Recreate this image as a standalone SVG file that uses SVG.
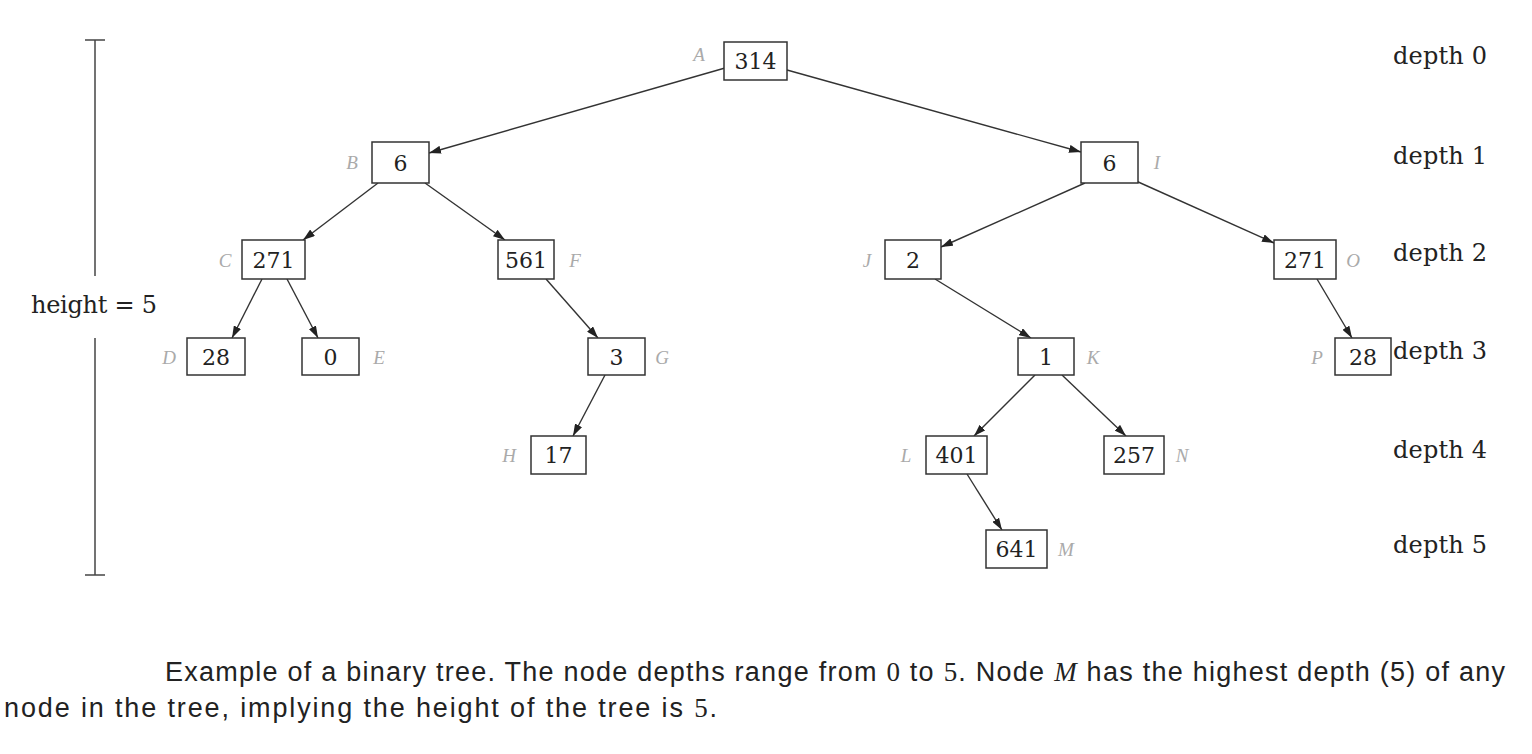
<svg xmlns="http://www.w3.org/2000/svg" width="1532" height="754" viewBox="0 0 1532 754">
<defs>
<style>
.box{fill:#fff;stroke:#333;stroke-width:1.5}
.val{font-family:"DejaVu Serif",serif;font-size:22px;fill:#222;text-anchor:middle}
.lab{font-family:"Liberation Serif",serif;font-style:italic;font-size:19px;fill:#aaa;text-anchor:middle}
.dep{font-family:"DejaVu Serif",serif;font-size:24px;fill:#222}
.edge{stroke:#333;stroke-width:1.4;fill:none;marker-end:url(#ah)}
.cap{font-family:"Liberation Sans",sans-serif;font-size:27px;fill:#222}
</style>
<marker id="ah" viewBox="0 0 12 8" refX="12" refY="4" markerWidth="12" markerHeight="8" markerUnits="userSpaceOnUse" orient="auto">
<path d="M0,0 L12,4 L0,8 z" fill="#222"/>
</marker>
</defs>
<rect width="1532" height="754" fill="#fff"/>
<g id="connectors">
<line class="edge" x1="725" y1="68" x2="429" y2="153"/>
<line class="edge" x1="787" y1="70" x2="1081" y2="152"/>
<line class="edge" x1="378" y1="183" x2="303" y2="240"/>
<line class="edge" x1="425" y1="183" x2="505" y2="240"/>
<line class="edge" x1="1085" y1="183" x2="941" y2="247"/>
<line class="edge" x1="1136" y1="181" x2="1274" y2="243"/>
<line class="edge" x1="262" y1="279" x2="232" y2="338"/>
<line class="edge" x1="287" y1="279" x2="318" y2="338"/>
<line class="edge" x1="546" y1="279" x2="598" y2="338"/>
<line class="edge" x1="605" y1="375" x2="573" y2="436"/>
<line class="edge" x1="935" y1="279" x2="1031" y2="338"/>
<line class="edge" x1="1317" y1="279" x2="1352" y2="338"/>
<line class="edge" x1="1035" y1="375" x2="974" y2="436"/>
<line class="edge" x1="1062" y1="375" x2="1126" y2="436"/>
<line class="edge" x1="967" y1="474" x2="1002" y2="530"/>
</g>
<g id="nA"><rect class="box" x="724" y="42" width="63" height="38"/><text class="val" x="755.5" y="69">314</text><text class="lab" x="699" y="61">A</text></g>
<g id="nB"><rect class="box" x="372" y="142" width="57" height="41"/><text class="val" x="400.5" y="171">6</text><text class="lab" x="352" y="169">B</text></g>
<g id="nI"><rect class="box" x="1081" y="142" width="57" height="41"/><text class="val" x="1109.5" y="171">6</text><text class="lab" x="1157" y="169">I</text></g>
<g id="nC"><rect class="box" x="242" y="240" width="63" height="39"/><text class="val" x="273.5" y="268">271</text><text class="lab" x="225" y="267">C</text></g>
<g id="nF"><rect class="box" x="498" y="240" width="56" height="39"/><text class="val" x="526" y="268">561</text><text class="lab" x="575" y="267">F</text></g>
<g id="nJ"><rect class="box" x="885" y="240" width="56" height="39"/><text class="val" x="913" y="268">2</text><text class="lab" x="867" y="267">J</text></g>
<g id="nO"><rect class="box" x="1274" y="240" width="62" height="39"/><text class="val" x="1305" y="268">271</text><text class="lab" x="1353" y="267">O</text></g>
<g id="nD"><rect class="box" x="187" y="338" width="58" height="37"/><text class="val" x="216" y="365">28</text><text class="lab" x="169" y="364">D</text></g>
<g id="nE"><rect class="box" x="302" y="338" width="57" height="37"/><text class="val" x="330.5" y="365">0</text><text class="lab" x="379" y="364">E</text></g>
<g id="nG"><rect class="box" x="588" y="338" width="57" height="37"/><text class="val" x="616.5" y="365">3</text><text class="lab" x="662" y="364">G</text></g>
<g id="nK"><rect class="box" x="1018" y="338" width="56" height="37"/><text class="val" x="1046" y="365">1</text><text class="lab" x="1093" y="364">K</text></g>
<g id="nP"><rect class="box" x="1335" y="338" width="56" height="37"/><text class="val" x="1363" y="365">28</text><text class="lab" x="1317" y="364">P</text></g>
<g id="nH"><rect class="box" x="531" y="436" width="55" height="38"/><text class="val" x="558.5" y="463">17</text><text class="lab" x="509" y="462">H</text></g>
<g id="nL"><rect class="box" x="926" y="436" width="61" height="38"/><text class="val" x="956.5" y="463">401</text><text class="lab" x="906" y="462">L</text></g>
<g id="nN"><rect class="box" x="1104" y="436" width="60" height="38"/><text class="val" x="1134" y="463">257</text><text class="lab" x="1182" y="462">N</text></g>
<g id="nM"><rect class="box" x="986" y="530" width="61" height="38"/><text class="val" x="1016.5" y="557">641</text><text class="lab" x="1066" y="556">M</text></g>
<g id="depths">
<text class="dep" x="1393" y="64" textLength="94">depth 0</text>
<text class="dep" x="1393" y="164" textLength="94">depth 1</text>
<text class="dep" x="1393" y="261" textLength="94">depth 2</text>
<text class="dep" x="1393" y="359" textLength="94">depth 3</text>
<text class="dep" x="1393" y="458" textLength="94">depth 4</text>
<text class="dep" x="1393" y="553" textLength="94">depth 5</text>
</g>
<g id="height" stroke="#444" stroke-width="1.5">
<line x1="95" y1="40" x2="95" y2="276"/>
<line x1="95" y1="338" x2="95" y2="575"/>
<line x1="85" y1="40" x2="105" y2="40"/>
<line x1="85" y1="575" x2="105" y2="575"/>
</g>
<text class="dep" x="31" y="313" textLength="126">height = 5</text>
<g id="caption">
<text class="cap" x="165" y="681" textLength="1340">Example of a binary tree.  The node depths range from <tspan font-family="Liberation Serif">0</tspan> to <tspan font-family="Liberation Serif">5</tspan>.  Node <tspan font-family="Liberation Serif" font-style="italic">M</tspan> has the highest depth (5) of any</text>
<text class="cap" x="4" y="717" textLength="713">node in the tree, implying the height of the tree is <tspan font-family="Liberation Serif">5</tspan>.</text>
</g>
</svg>
